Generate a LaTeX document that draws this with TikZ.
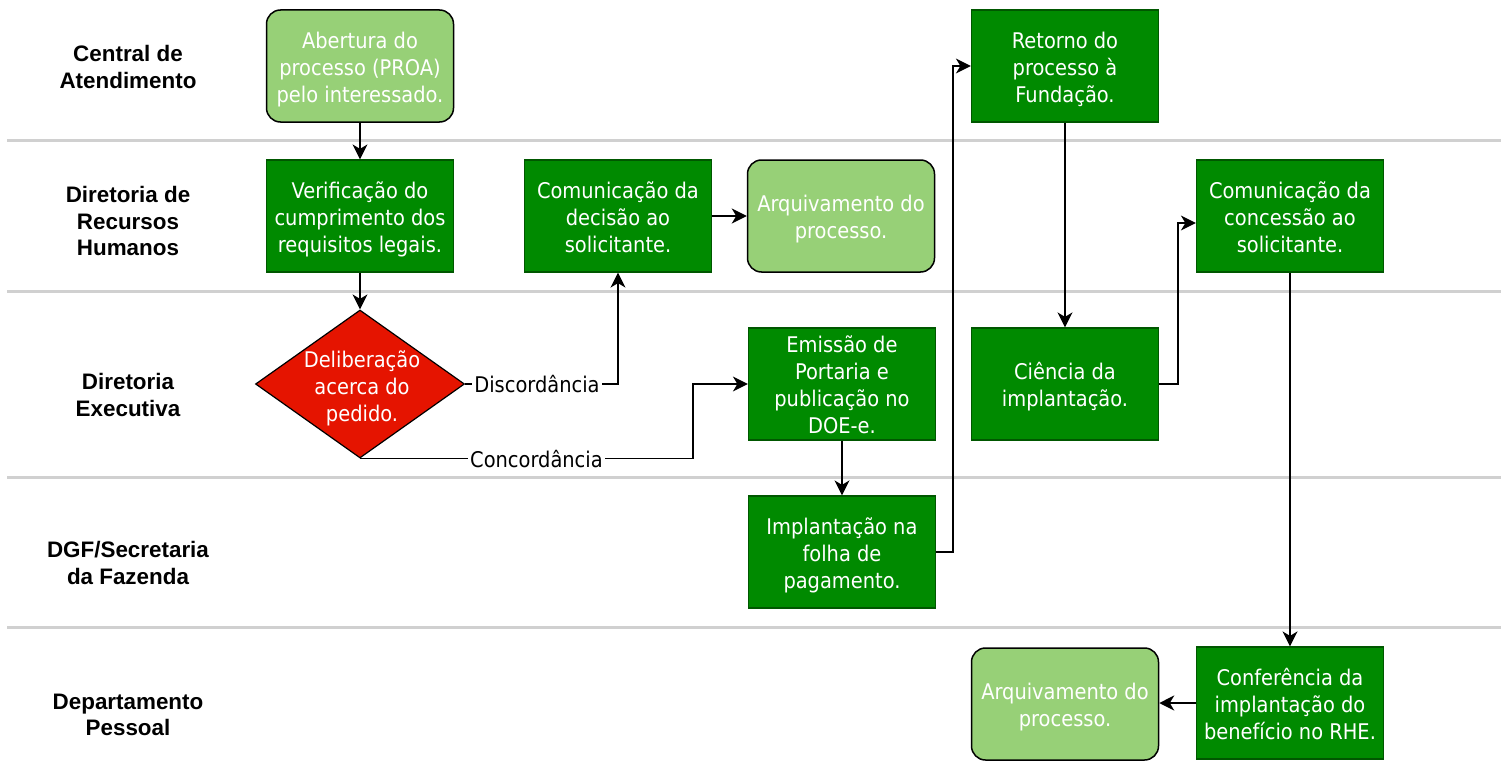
\documentclass[tikz,border=0pt]{standalone}
\usepackage{fontspec}
\newfontfamily\nodefont{DejaVu Sans Condensed}
\newfontfamily\lanefont{Liberation Sans}
\usetikzlibrary{arrows.meta,shapes.geometric}
\definecolor{dkgreen}{HTML}{008A00}
\definecolor{dkgreenline}{HTML}{005700}
\definecolor{ltgreen}{HTML}{97D077}
\definecolor{redfill}{HTML}{E51400}
\definecolor{laneline}{HTML}{D0D0D0}
\newcommand\ntext[1]{\raisebox{-4pt}[\height][\depth]{\begin{tabular}{@{}c@{}}#1\end{tabular}}}
\begin{document}
\begin{tikzpicture}[x=1pt,y=-1pt,
  proc/.style={rectangle, draw=dkgreenline, fill=dkgreen, line width=1.2pt,
    minimum width=187pt, minimum height=112pt, text=white, inner sep=0pt,
    font=\nodefont\fontsize{21.6}{27}\selectfont},
  term/.style={proc, rounded corners=14pt, fill=ltgreen, draw=black, line width=1.5pt},
  dec/.style={diamond, draw=black, fill=redfill, line width=1.2pt,
    minimum width=209pt, minimum height=148pt, inner sep=0pt},
  dectext/.style={text=white, align=center, font=\nodefont\fontsize{21.6}{27}\selectfont},
  lane/.style={align=center, font=\lanefont\bfseries\fontsize{22.4}{26.5}\selectfont},
  lanesep/.style={draw=laneline, line width=3pt},
  arr/.style={draw=black, line width=1.5pt, -{Stealth[length=15pt,width=15pt,inset=4.5pt]}},
  lbl/.style={fill=white, inner sep=2pt, text=black, font=\nodefont\fontsize{21.6}{24}\selectfont}]
\useasboundingbox (0,0) rectangle (1508,768);

% lane separators
\foreach \yy in {140,291,477,627}
  \draw[lanesep] (7,\yy) -- (1501,\yy);

% lane labels
\node[lane] (l1) at (128,67) {Central de\\Atendimento};
\node[lane] (l2) at (128,221) {Diretoria de\\Recursos\\Humanos};
\node[lane] (l3) at (128,395) {Diretoria\\Executiva};
\node[lane] (l4) at (128,563) {DGF/Secretaria\\da Fazenda};
\node[lane] (l5) at (128,715) {Departamento\\Pessoal};

% nodes
\node[term] (abe) at (360,66) {\ntext{Abertura do\\processo (PROA)\\pelo interessado.}};
\node[proc] (ver) at (360,216) {\ntext{Verificação do\\cumprimento dos\\requisitos legais.}};
\node[proc] (com1) at (618,216) {\ntext{Comunicação da\\decisão ao\\solicitante.}};
\node[term] (arq1) at (841,216) {\ntext{Arquivamento do\\processo.}};
\node[dec] (dlb) at (360,384) {};
\node[dectext] (dlbt) at (362,388) {Deliberação\\acerca do\\pedido.};
\node[proc] (emi) at (842,384) {\ntext{Emissão de\\Portaria e\\publicação no\\DOE-e.}};
\node[proc] (imp) at (842,552) {\ntext{Implantação na\\folha de\\pagamento.}};
\node[proc] (ret) at (1065,66) {\ntext{Retorno do\\processo à\\Fundação.}};
\node[proc] (cie) at (1065,384) {\ntext{Ciência da\\implantação.}};
\node[proc] (con2) at (1290,216) {\ntext{Comunicação da\\concessão ao\\solicitante.}};
\node[proc] (conf) at (1290,703) {\ntext{Conferência da\\implantação do\\benefício no RHE.}};
\node[term] (arq2) at (1065,704) {\ntext{Arquivamento do\\processo.}};

% routing coordinates
\coordinate (cc) at (693,459);
\coordinate (c2) at (953,0);
\coordinate (c3) at (1178,0);
\coordinate (c2in) at ([yshift=-7pt]con2.west);

% connectors
\draw[arr] (abe.south) -- (ver.north);
\draw[arr] (ver.south) -- (dlb.north);
\draw[arr] (dlb.east) -- node[lbl,pos=0.47]{Discordância} (dlb.east -| com1.south) -- (com1.south);
\draw[arr] (dlb.south) -- node[lbl,pos=0.53]{Concordância} (dlb.south -| cc) -- (cc |- emi.west) -- (emi.west);
\draw[arr] (com1.east) -- (arq1.west);
\draw[arr] (emi.south) -- (imp.north);
\draw[arr] (imp.east) -- (imp.east -| c2) -- (c2 |- ret.west) -- (ret.west);
\draw[arr] (ret.south) -- (cie.north);
\draw[arr] (cie.east) -- (cie.east -| c3) -- (c3 |- c2in) -- (c2in);
\draw[arr] (con2.south) -- (conf.north);
\draw[arr] (conf.west) -- (conf.west -| arq2.east);
\end{tikzpicture}
\end{document}
